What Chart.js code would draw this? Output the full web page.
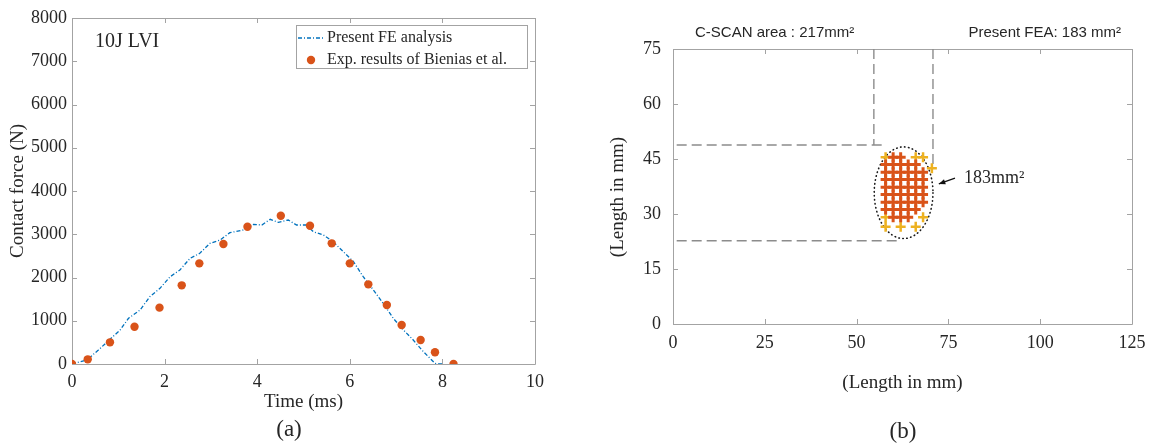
<!DOCTYPE html>
<html>
<head>
<meta charset="utf-8">
<script src="https://cdn.jsdelivr.net/npm/chart.js@4.4.1/dist/chart.umd.min.js"></script>
<style>
  body { margin: 0; background: #fff; }
  #wrap { position: relative; width: 1159px; height: 444px; overflow: hidden; }
  #leftChart { position: absolute; left: 0; top: 0; }
  #rightChart { position: absolute; left: 580px; top: 0; }
</style>
</head>
<body>
<div id="wrap">
  <canvas id="leftChart" width="580" height="444"></canvas>
  <canvas id="rightChart" width="579" height="444"></canvas>
</div>
<script>
// ---- (a) contact force history ----
const feTime  = [0, 0.32, 0.57, 0.82, 1.04, 1.22, 1.47, 1.68, 1.90, 2.12, 2.33, 2.55, 2.76, 2.98, 3.20, 3.41, 3.70, 3.92, 4.10, 4.28, 4.46, 4.67, 4.85, 5.07, 5.21, 5.43, 5.64, 5.86, 6.08, 6.29, 6.51, 6.72, 6.94, 7.16, 7.37, 7.59, 7.84, 7.90, 8.00];
const feForce = [0, 92, 324, 571, 786, 1056, 1248, 1556, 1750, 2018, 2173, 2443, 2559, 2790, 2867, 3036, 3098, 3229, 3214, 3345, 3275, 3329, 3214, 3214, 3059, 2983, 2828, 2597, 2365, 2018, 1711, 1403, 1056, 786, 555, 284, 16, 0, 0];
const expTime  = [0, 0.34, 0.82, 1.35, 1.89, 2.37, 2.75, 3.27, 3.79, 4.51, 5.14, 5.61, 6.00, 6.40, 6.80, 7.12, 7.53, 7.84, 8.24];
const expForce = [0, 108, 501, 863, 1303, 1819, 2327, 2774, 3175, 3429, 3198, 2790, 2327, 1842, 1364, 902, 555, 270, 0];

// ---- (b) damage footprint (mm) ----
const redX = [59.95, 62.0,
              57.9, 59.95, 62.0, 64.05, 66.1,
              57.9, 59.95, 62.0, 64.05, 66.1, 68.1,
              57.9, 59.95, 62.0, 64.05, 66.1, 68.1,
              57.9, 59.95, 62.0, 64.05, 66.1, 68.1,
              57.9, 59.95, 62.0, 64.05, 66.1, 68.1,
              57.9, 59.95, 62.0, 64.05, 66.1, 68.1,
              57.9, 59.95, 62.0, 64.05, 66.1,
              59.95, 62.0, 64.05];
const redY = [45.5, 45.5,
              43.5, 43.5, 43.5, 43.5, 43.5,
              41.4, 41.4, 41.4, 41.4, 41.4, 41.4,
              39.4, 39.4, 39.4, 39.4, 39.4, 39.4,
              37.3, 37.3, 37.3, 37.3, 37.3, 37.3,
              35.3, 35.3, 35.3, 35.3, 35.3, 35.3,
              33.2, 33.2, 33.2, 33.2, 33.2, 33.2,
              31.2, 31.2, 31.2, 31.2, 31.2,
              29.1, 29.1, 29.1];
const yellowX = [57.9, 66.1, 68.1, 70.5, 57.9, 68.1, 57.9, 62.0, 66.1];
const yellowY = [45.5, 45.5, 45.5, 42.5, 29.1, 29.1, 26.5, 26.5, 26.5];

// C-scan bounding lines
const scanVertLeftX  = [54.7, 54.7], scanVertLeftY  = [75, 48.8];
const scanVertRightX = [70.8, 70.8], scanVertRightY = [75, 43];
const scanTopX    = [1, 58], scanTopY    = [48.8, 48.8];
const scanBottomX = [1, 61], scanBottomY = [22.7, 22.7];

const damageEllipse = [62.8, 35.8, 8.0, 12.5]; // cx, cy, rx, ry
const arrowFrom = [76.8, 39.8];
const arrowTo = [72.4, 38.2];

const serif = "'Liberation Serif', 'Times New Roman', serif";
const sans = "'Liberation Sans', Arial, sans-serif";
const axisGray = '#a3a3a3';
const textCol = '#262626';

const toPts = (xs, ys) => xs.map((v, i) => ({ x: v, y: ys[i] }));

// box + inward ticks on all four sides, like the original figure
const frame = {
    id: 'frame',
    beforeDatasetsDraw(chart) {
        const { ctx, chartArea: a, scales: { x, y } } = chart;
        ctx.save();
        ctx.strokeStyle = axisGray;
        ctx.lineWidth = 1;
        ctx.beginPath();
        ctx.rect(Math.round(a.left) + 0.5, Math.round(a.top) + 0.5, Math.round(a.right - a.left), Math.round(a.bottom - a.top));
        x.ticks.forEach(t => {
            const px = Math.round(x.getPixelForValue(t.value)) + 0.5;
            ctx.moveTo(px, a.bottom); ctx.lineTo(px, a.bottom - 5);
            ctx.moveTo(px, a.top); ctx.lineTo(px, a.top + 5);
        });
        y.ticks.forEach(t => {
            const py = Math.round(y.getPixelForValue(t.value)) + 0.5;
            ctx.moveTo(a.left, py); ctx.lineTo(a.left + 5, py);
            ctx.moveTo(a.right, py); ctx.lineTo(a.right - 5, py);
        });
        ctx.stroke();
        ctx.restore();
    }
};

function axis(min, max, step, size, pad, horizontal, title) {
    const a = {
        type: 'linear', min: min, max: max,
        grid: { display: false, drawTicks: false },
        border: { display: false },
        ticks: {
            stepSize: step, padding: pad, color: textCol,
            font: { family: serif, size: 18 }, maxRotation: 0, autoSkip: false,
            callback: v => String(v)
        },
        afterFit: s => { if (horizontal) s.height = size; else s.width = size; }
    };
    if (title) a.title = title;
    return a;
}

// ---------- left chart ----------
const leftDecor = {
    id: 'leftDecor',
    afterDraw(chart) {
        const { ctx, chartArea: a } = chart;
        const ds = chart.data.datasets;
        ctx.save();
        // legend box
        const lx = 296, ly = 25, lw = 231, lh = 43;
        ctx.fillStyle = '#fff';
        ctx.fillRect(lx, ly, lw, lh);
        ctx.strokeStyle = axisGray;
        ctx.lineWidth = 1;
        ctx.strokeRect(lx + 0.5, ly + 0.5, lw, lh);
        ctx.strokeStyle = ds[1].borderColor;
        ctx.lineWidth = 1.3;
        ctx.setLineDash(ds[1].borderDash);
        ctx.beginPath();
        ctx.moveTo(lx + 2, ly + 13); ctx.lineTo(lx + 29, ly + 13);
        ctx.stroke();
        ctx.setLineDash([]);
        ctx.fillStyle = ds[0].backgroundColor;
        ctx.beginPath();
        ctx.arc(lx + 15, ly + 35, 4.2, 0, Math.PI * 2);
        ctx.fill();
        ctx.fillStyle = textCol;
        ctx.font = '16px ' + serif;
        ctx.textBaseline = 'middle';
        ctx.textAlign = 'left';
        ctx.fillText(ds[1].label, lx + 31, ly + 13);
        ctx.fillText(ds[0].label, lx + 31, ly + 35);
        // inset label
        ctx.font = '20px ' + serif;
        ctx.fillText('10J LVI', a.left + 23, a.top + 24);
        // panel tag
        ctx.textAlign = 'center';
        ctx.font = '23px ' + serif;
        ctx.fillText('(a)', 289, 430);
        ctx.restore();
    }
};

new Chart(document.getElementById('leftChart'), {
    type: 'scatter',
    data: {
        datasets: [
            {
                label: 'Exp. results of Bienias et al.',
                data: toPts(expTime, expForce),
                backgroundColor: '#D95319',
                borderColor: '#D95319',
                pointRadius: 4.2,
                pointBorderWidth: 0,
                order: 1
            },
            {
                label: 'Present FE analysis',
                data: toPts(feTime, feForce),
                showLine: true,
                borderColor: '#0072BD',
                borderWidth: 1.3,
                borderDash: [4, 2, 1, 2],
                pointRadius: 0,
                fill: false,
                order: 2
            }
        ]
    },
    options: {
        responsive: false,
        animation: false,
        layout: { padding: { top: 18, right: 45, left: 0, bottom: 0 } },
        plugins: { legend: { display: false }, tooltip: { enabled: false } },
        scales: {
            x: axis(0, 10, 2, 80, 7, true, {
                display: true, text: 'Time (ms)', color: textCol,
                font: { family: serif, size: 19 }, padding: { top: 0, bottom: 31 }
            }),
            y: axis(0, 8000, 1000, 72, 5, false, {
                display: true, text: 'Contact force (N)', color: textCol,
                font: { family: serif, size: 19 }, padding: { top: 7, bottom: 0 }
            })
        }
    },
    plugins: [frame, leftDecor]
});

// ---------- right chart ----------
const rightDecor = {
    id: 'rightDecor',
    beforeDatasetsDraw(chart) {
        const { ctx, scales: { x, y } } = chart;
        const [cx, cy, rx, ry] = damageEllipse;
        const pcx = x.getPixelForValue(cx), pcy = y.getPixelForValue(cy);
        const prx = x.getPixelForValue(cx + rx) - pcx;
        const pry = pcy - y.getPixelForValue(cy + ry);
        ctx.save();
        ctx.strokeStyle = '#1a1a1a';
        ctx.lineWidth = 1.6;
        ctx.lineCap = 'round';
        ctx.setLineDash([0.5, 3.5]);
        ctx.beginPath();
        ctx.ellipse(pcx, pcy, prx, pry, 0, 0, Math.PI * 2);
        ctx.stroke();
        ctx.restore();
    },
    afterDraw(chart) {
        const { ctx, scales: { x, y } } = chart;
        ctx.save();
        // arrow
        const x0 = x.getPixelForValue(arrowFrom[0]), y0 = y.getPixelForValue(arrowFrom[1]);
        const x1 = x.getPixelForValue(arrowTo[0]), y1 = y.getPixelForValue(arrowTo[1]);
        const ang = Math.atan2(y1 - y0, x1 - x0);
        ctx.strokeStyle = '#111';
        ctx.fillStyle = '#111';
        ctx.lineWidth = 1.2;
        ctx.beginPath();
        ctx.moveTo(x0, y0); ctx.lineTo(x1, y1);
        ctx.stroke();
        ctx.beginPath();
        ctx.moveTo(x1, y1);
        ctx.lineTo(x1 - 7 * Math.cos(ang - 0.4), y1 - 7 * Math.sin(ang - 0.4));
        ctx.lineTo(x1 - 7 * Math.cos(ang + 0.4), y1 - 7 * Math.sin(ang + 0.4));
        ctx.closePath();
        ctx.fill();
        // texts
        ctx.fillStyle = textCol;
        ctx.textBaseline = 'middle';
        ctx.textAlign = 'left';
        ctx.font = '18px ' + serif;
        ctx.fillText('183mm\u00B2', x0 + 9, y0);
        ctx.font = '15px ' + sans;
        ctx.fillText('C-SCAN area : 217mm\u00B2', 115, 33);
        ctx.textAlign = 'right';
        ctx.fillText('Present FEA: 183 mm\u00B2', 541, 33);
        // y title
        ctx.textAlign = 'center';
        ctx.font = '19px ' + serif;
        ctx.save();
        ctx.translate(38, 197);
        ctx.rotate(-Math.PI / 2);
        ctx.fillText('(Length in mm)', 0, 0);
        ctx.restore();
        ctx.font = '23px ' + serif;
        ctx.fillText('(b)', 323, 432);
        ctx.restore();
    }
};

const dashLine = (xs, ys) => ({
    data: toPts(xs, ys), showLine: true, borderColor: '#8c8c8c', borderWidth: 1.4,
    borderDash: [10, 5], pointRadius: 0, fill: false, order: 3
});

new Chart(document.getElementById('rightChart'), {
    type: 'scatter',
    data: {
        datasets: [
            {
                label: 'FEA damage',
                data: toPts(redX, redY),
                pointStyle: 'cross',
                pointRadius: 5,
                borderColor: '#D95319',
                pointBorderWidth: 3,
                order: 1
            },
            {
                label: 'FEA damage (edge)',
                data: toPts(yellowX, yellowY),
                pointStyle: 'cross',
                pointRadius: 5,
                borderColor: '#EDB120',
                pointBorderWidth: 2.5,
                order: 2
            },
            dashLine(scanVertLeftX, scanVertLeftY),
            dashLine(scanVertRightX, scanVertRightY),
            dashLine(scanTopX, scanTopY),
            dashLine(scanBottomX, scanBottomY)
        ]
    },
    options: {
        responsive: false,
        animation: false,
        layout: { padding: { top: 49, right: 27, left: 0, bottom: 0 } },
        plugins: { legend: { display: false }, tooltip: { enabled: false } },
        scales: {
            x: axis(0, 125, 25, 120, 8, true, {
                display: true, text: '(Length in mm)', color: textCol,
                font: { family: serif, size: 19 }, padding: { top: 0, bottom: 50 }
            }),
            y: axis(0, 75, 15, 93, 12, false, null)
        }
    },
    plugins: [frame, rightDecor]
});
</script>
</body>
</html>
